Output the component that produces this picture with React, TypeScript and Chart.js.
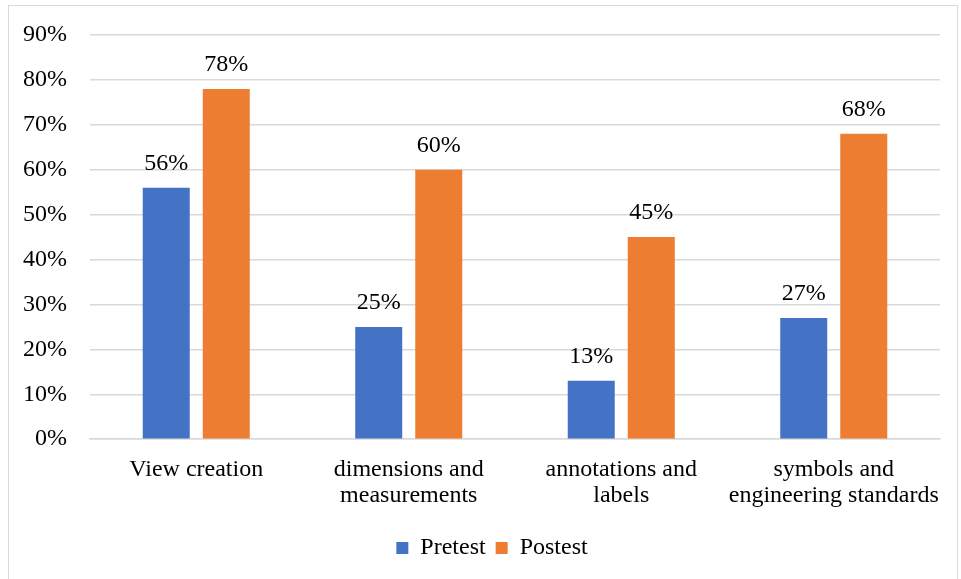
import React, { useEffect, useRef } from "react";
import { Chart, registerables } from "chart.js";

Chart.register(...registerables);

const categories: (string | string[])[] = [
  "View creation",
  ["dimensions and", "measurements"],
  ["annotations and", "labels"],
  ["symbols and", "engineering standards"],
];
const pretest = [56, 25, 13, 27];
const postest = [78, 60, 45, 68];
const yTicks = [0, 10, 20, 30, 40, 50, 60, 70, 80, 90];

const FONT = "'Liberation Serif', 'Times New Roman', serif";

const dataLabels = {
  id: "dataLabels",
  afterDatasetsDraw(chart: any) {
    const ctx = chart.ctx;
    ctx.save();
    ctx.font = `24px ${FONT}`;
    ctx.fillStyle = "#000";
    ctx.textAlign = "center";
    ctx.textBaseline = "middle";
    chart.data.datasets.forEach((ds: any, i: number) => {
      const meta = chart.getDatasetMeta(i);
      meta.data.forEach((bar: any, j: number) => {
        ctx.fillText(`${ds.data[j]}%`, bar.x, bar.y - 24);
      });
    });
    ctx.restore();
  },
};

const shiftLegend = {
  id: "shiftLegend",
  afterLayout(chart: any) {
    if (chart.legend) {
      chart.legend.left += 44;
    }
  },
};

export default function App() {
  const ref = useRef<HTMLCanvasElement>(null);
  useEffect(() => {
    const chart = new Chart(ref.current!, {
      type: "bar",
      data: {
        labels: categories as any,
        datasets: [
          { label: "Pretest", data: pretest, backgroundColor: "#4472C4", categoryPercentage: 0.565, barPercentage: 0.783 },
          { label: "Postest", data: postest, backgroundColor: "#ED7D31", categoryPercentage: 0.565, barPercentage: 0.783 },
        ],
      },
      options: {
        animation: false,
        responsive: false,
        maintainAspectRatio: false,
        layout: { padding: { left: 0, right: 21, top: 20, bottom: 9 } },
        plugins: {
          legend: {
            position: "bottom",
            labels: {
              font: { family: FONT, size: 24 },
              color: "#000",
              boxWidth: 12,
              boxHeight: 12,
              padding: 10,
            },
          },
          tooltip: { enabled: false },
        },
        scales: {
          x: {
            grid: { display: false, drawTicks: false },
            border: { color: "#d9d9d9", width: 1.5 },
            ticks: {
              font: { family: FONT, size: 24, lineHeight: 1.1 },
              color: "#000",
              padding: 17,
              maxRotation: 0,
              autoSkip: false,
            },
          },
          y: {
            min: 0,
            max: 90,
            afterBuildTicks: (axis: any) => {
              axis.ticks = yTicks.map((v) => ({ value: v }));
            },
            afterFit: (axis: any) => {
              axis.width = 90;
            },
            grid: { color: "#d9d9d9", lineWidth: 1.5, drawTicks: false },
            border: { display: false },
            ticks: {
              font: { family: FONT, size: 24, lineHeight: 1.0 },
              color: "#000",
              padding: 23,
              callback: (v: any) => `${v}%`,
            },
          },
        },
      },
      plugins: [dataLabels, shiftLegend],
    });
    return () => chart.destroy();
  }, []);
  return (
    <div style={{ position: "absolute", left: 0, top: 0, width: 961, height: 579, background: "#fff" }}>
      <div
        style={{
          position: "absolute",
          left: 8,
          top: 5,
          width: 950,
          height: 580,
          border: "1.5px solid #d9d9d9",
          boxSizing: "border-box",
        }}
      />
      <canvas ref={ref} width={961} height={579} style={{ position: "absolute", left: 0, top: 0 }} />
    </div>
  );
}
